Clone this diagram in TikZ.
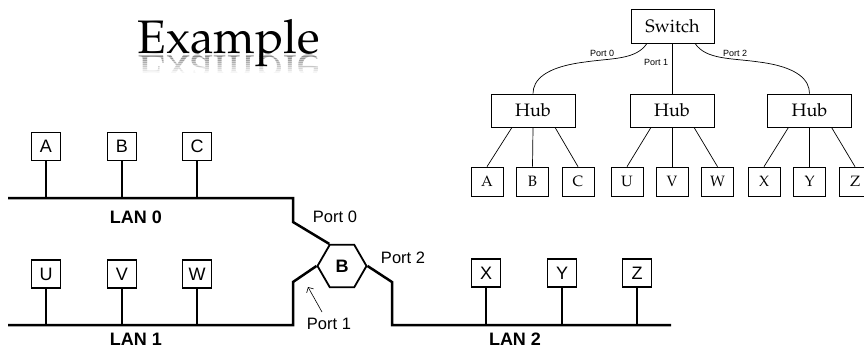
\documentclass[tikz,border=0pt]{standalone}
\usepackage[T1]{fontenc}
\usepackage{fontspec}
\newfontfamily\arial{Liberation Sans}
\newcommand\pal{\fontencoding{T1}\fontfamily{ppl}\selectfont}
\usetikzlibrary{shapes.geometric,arrows.meta}
\tikzset{
  station/.style={draw, line width=1.6pt, minimum width=29pt, minimum height=28pt,
    inner sep=0pt, font=\arial\fontsize{18}{18}\selectfont},
  lan/.style={line width=2.5pt},
  stem/.style={line width=2pt},
  lanlabel/.style={font=\arial\bfseries\fontsize{18}{18}\selectfont},
  portlabel/.style={font=\arial\fontsize{16.5}{16.5}\selectfont},
  treebox/.style={draw, line width=0.7pt, inner sep=0pt, font=\pal\fontsize{18}{18}\selectfont},
  leafbox/.style={draw, line width=0.7pt, minimum width=32pt, minimum height=29pt,
    inner sep=0pt, font=\pal\fontsize{15}{15}\selectfont},
  treeline/.style={line width=0.7pt},
  smallport/.style={font=\arial\fontsize{9}{9}\selectfont},
  title/.style={font=\pal\fontsize{47}{47}\selectfont, inner sep=0pt}
}
\begin{document}
\begin{tikzpicture}[x=1pt,y=-1pt]
\useasboundingbox (0,0) rectangle (864,349);
\clip (0,0) rectangle (864,349);

% ---- title with a fading mirror image ----
\node[title, anchor=base] (ttl) at (228.5,53) {Example};
\foreach \i [evaluate=\i as \op using 0.28-0.03*\i,
             evaluate=\i as \ya using 54+2*\i,
             evaluate=\i as \yb using 56+2*\i] in {0,...,8}{
  \begin{scope}
    \clip (120,\ya) rectangle (340,\yb);
    \node[title, anchor=base, yscale=-1, text=black, text opacity=\op] (ref\i) at (228.5,55) {Example};
  \end{scope}
}

% ---- bridged LANs ----
\node[regular polygon, regular polygon sides=6, draw, line width=1.8pt,
      minimum size=49pt, inner sep=0pt,
      font=\arial\bfseries\fontsize{18}{18}\selectfont] (br) at (342,266) {B};

\node[station] (sa) at (46,146.5) {A};
\node[station] (sb) at (122,146.5) {B};
\node[station] (sc) at (197,146.5) {C};
\node[station] (su) at (46,274) {U};
\node[station] (sv) at (122,274) {V};
\node[station] (sw) at (197,274) {W};
\node[station] (sx) at (486,273) {X};
\node[station] (sy) at (562,273) {Y};
\node[station] (sz) at (637,273) {Z};

\coordinate (l0w) at (8,198);
\coordinate (l0e) at (293,198);
\coordinate (l0k) at (293,222);
\coordinate (l1w) at (8,325);
\coordinate (l1e) at (293,325);
\coordinate (l1k) at (293,282);
\coordinate (l2w) at (392,325);
\coordinate (l2e) at (671,325);
\coordinate (l2k) at (392,282);

\draw[lan, line join=miter] (l0w) -- (l0e) -- (l0k) -- (br.120);
\draw[lan, line join=miter] (l1w) -- (l1e) -- (l1k) -- (br.180);
\draw[lan, line join=miter] (l2e) -- (l2w) -- (l2k) -- (br.0);

\foreach \s in {sa,sb,sc}{\draw[stem] (\s.south) -- (\s.south |- l0w);}
\foreach \s in {su,sv,sw}{\draw[stem] (\s.south) -- (\s.south |- l1w);}
\foreach \s in {sx,sy,sz}{\draw[stem] (\s.south) -- (\s.south |- l2w);}

\node[lanlabel] (lan0) at (136,217) {LAN 0};
\node[lanlabel] (lan1) at (136,339.5) {LAN 1};
\node[lanlabel] (lan2) at (515,339.5) {LAN 2};

\node[portlabel] (p0) at (335,217) {Port 0};
\node[portlabel] (p2) at (403,258) {Port 2};
\node[portlabel] (p1) at (329,324) {Port 1};
\coordinate (p1tip) at (308,287);
\coordinate (p1tail) at (322,312);
\draw[line width=0.6pt, -{Straight Barb[length=4pt]}] (p1tail) -- (p1tip);

% ---- equivalent switch tree ----
\node[treebox, minimum width=83pt, minimum height=34pt] (swt) at (672.5,26) {Switch};
\node[treebox, minimum width=84pt, minimum height=33pt] (h1) at (533,110.5) {Hub};
\node[treebox, minimum width=84pt, minimum height=33pt] (h2) at (672,110.5) {Hub};
\node[treebox, minimum width=84pt, minimum height=33pt] (h3) at (809.5,110.5) {Hub};

\node[leafbox] (ta) at (487,181.5) {A};
\node[leafbox] (tb) at (532.5,181.5) {B};
\node[leafbox] (tc) at (578,181.5) {C};
\node[leafbox] (tu) at (627,181.5) {U};
\node[leafbox] (tv) at (672,181.5) {V};
\node[leafbox] (tw) at (717.5,181.5) {W};
\node[leafbox] (tx) at (764,181.5) {X};
\node[leafbox] (ty) at (809.5,181.5) {Y};
\node[leafbox] (tz) at (855,181.5) {Z};

\draw[treeline] ([xshift=-25.5pt]swt.south) .. controls (636,60) and (612,58) .. (585,62)
  .. controls (545,67) and (533,80) .. (h1.north);
\draw[treeline] (swt.south -| h2.north) -- (h2.north);
\draw[treeline] ([xshift=22.5pt]swt.south) .. controls (706,60) and (732,58) .. (759,62)
  .. controls (798,67) and (809.5,80) .. (h3.north);

\foreach \h/\l/\m/\r in {h1/ta/tb/tc, h2/tu/tv/tw, h3/tx/ty/tz}{
  \draw[treeline] ([xshift=-21pt]\h.south) -- (\l.north);
  \draw[treeline] (\h.south) -- (\m.north);
  \draw[treeline] ([xshift=22pt]\h.south) -- (\r.north);
}

\node[smallport] (tp0) at (602,53) {Port 0};
\node[smallport] (tp1) at (656,62) {Port 1};
\node[smallport] (tp2) at (735,53) {Port 2};
\end{tikzpicture}
\end{document}
